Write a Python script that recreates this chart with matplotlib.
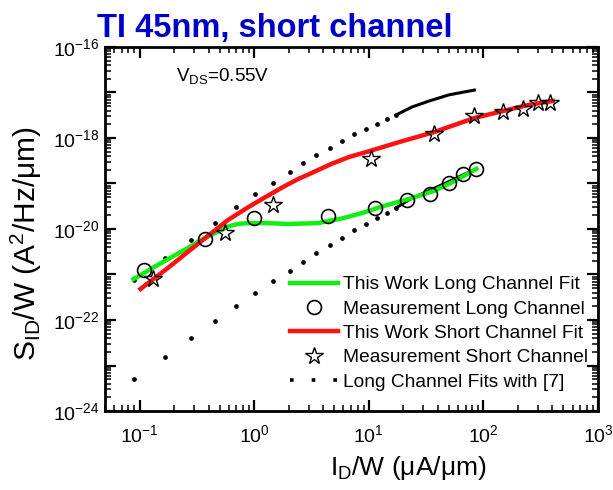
import numpy as np
import matplotlib
matplotlib.use('Agg')
import matplotlib.pyplot as plt
from matplotlib.ticker import LogLocator, FuncFormatter
from matplotlib.lines import Line2D

plt.rcParams['font.family'] = ['Liberation Sans', 'DejaVu Sans']
plt.rcParams['mathtext.fontset'] = 'custom'
plt.rcParams['mathtext.rm'] = 'Liberation Sans'
plt.rcParams['mathtext.it'] = 'Liberation Sans:italic'
plt.rcParams['mathtext.bf'] = 'Liberation Sans:bold'

# measured long channel (circles)
long_x = [0.11, 0.37, 1.0, 4.4, 11.3, 21.5, 34.3, 50.3, 66.8, 86.9]
long_y = [1.26e-21, 6.0e-21, 1.74e-20, 1.94e-20, 2.9e-20, 4.3e-20,
          5.9e-20, 1.02e-19, 1.6e-19, 2.1e-19]

# measured short channel (stars)
short_x = [0.13, 0.56, 1.47, 10.4, 37.2, 83.4, 147, 220, 298, 379]
short_y = [7.9e-22, 8.1e-21, 3.4e-20, 3.5e-19, 1.23e-18, 3.05e-18,
           3.7e-18, 4.3e-18, 5.9e-18, 5.9e-18]

# this work, long channel fit (green)
fit_long_x = [0.0886, 0.144, 0.238, 0.371, 0.535, 0.615, 0.724, 0.885, 1.25,
              1.99, 3.64, 6.04, 9.04, 13.5, 22.5, 37.2, 55.7, 86.9]
fit_long_y = [7.9e-22, 1.62e-21, 3.3e-21, 6.3e-21, 1.0e-20, 1.17e-20,
              1.29e-20, 1.35e-20, 1.35e-20, 1.29e-20, 1.35e-20, 1.74e-20,
              2.3e-20, 3.2e-20, 4.6e-20, 6.9e-20, 1.12e-19, 2.1e-19]

# this work, short channel fit (red)
fit_short_x = [0.102, 0.176, 0.323, 0.592, 0.885, 1.25, 1.79, 2.43, 3.30,
               4.73, 6.68, 10.0, 18.3, 37.2, 83.4, 147, 253, 403]
fit_short_y = [4.8e-22, 1.38e-21, 4.7e-21, 1.58e-20, 3.0e-20, 5.0e-20,
               8.4e-20, 1.26e-19, 1.78e-19, 2.7e-19, 3.8e-19, 5.1e-19,
               8.1e-19, 1.35e-18, 2.75e-18, 3.9e-18, 5.4e-18, 6.5e-18]

# long channel fits with [7]: dotted part (same currents for both curves)
ref_x = [0.0904, 0.166, 0.280, 0.455, 0.695, 1.02, 1.47, 2.07, 2.69, 3.50,
         4.55, 5.80, 7.39, 9.41, 11.8, 14.4, 17.3]
ref_upper_y = [7.6e-22, 2.3e-21, 5.7e-21, 1.35e-20, 3.0e-20, 5.9e-20,
               1.02e-19, 1.78e-19, 2.8e-19, 4.2e-19, 6.0e-19, 8.5e-19,
               1.23e-18, 1.58e-18, 2.0e-18, 2.6e-18, 3.2e-18]
ref_lower_y = [5.0e-24, 1.54e-23, 4.0e-23, 9.5e-23, 2.0e-22, 3.9e-22,
               7.2e-22, 1.2e-21, 1.88e-21, 2.97e-21, 4.5e-21, 6.3e-21,
               9.5e-21, 1.29e-20, 1.74e-20, 2.2e-20, 2.9e-20]
# solid tails where the dots merge
tail_upper_x = [17.3, 23.8, 33.6, 50.3, 83.4]
tail_upper_y = [3.2e-18, 4.8e-18, 6.5e-18, 8.9e-18, 1.13e-17]
tail_lower_x = [17.3, 22.5, 41.1, 86.9]
tail_lower_y = [2.9e-20, 4.4e-20, 8.8e-20, 2.1e-19]

legend_labels = ['This Work Long Channel Fit', 'Measurement Long Channel',
                 'This Work Short Channel Fit', 'Measurement Short Channel',
                 'Long Channel Fits with [7]']


def sci_label(v, pos, every=1):
    e = int(round(np.log10(v)))
    if e % every:
        return ''
    return r'$\mathregular{10^{%d}}$' % e


fig = plt.figure(figsize=(6.13, 4.9), dpi=100)
ax = fig.add_axes([105 / 613, 79 / 490, 493 / 613, 364 / 490])

# reference fits (black dots)
ax.plot(ref_x, ref_upper_y, 'o', color='k', ms=3.4, mew=0)
ax.plot(ref_x, ref_lower_y, 'o', color='k', ms=3.4, mew=0)
ax.plot(tail_upper_x, tail_upper_y, '-', color='k', lw=2.2)
ax.plot(tail_lower_x, tail_lower_y, '-', color='k', lw=2.2)

# this work
l_green, = ax.plot(fit_long_x, fit_long_y, '-', color='#11ee11', lw=3.2,
                   solid_joinstyle='round')
l_red, = ax.plot(fit_short_x, fit_short_y, '-', color='#ff1111', lw=3.2,
                 solid_joinstyle='round')

# measurements
m_circ, = ax.plot(long_x, long_y, 'o', mfc='none', mec='k', ms=10, mew=1.2)
m_star, = ax.plot(short_x, short_y, '*', mfc='none', mec='k', ms=13, mew=1.0)

dots = Line2D([], [], color='k', lw=2.6, ls=(0, (1, 5)))

ax.set_xscale('log')
ax.set_yscale('log')
ax.set_xlim(0.05, 1000)
ax.set_ylim(1e-24, 1e-16)

ax.xaxis.set_major_locator(LogLocator(base=10, numticks=20))
ax.xaxis.set_minor_locator(LogLocator(base=10, subs=np.arange(2, 10), numticks=100))
ax.yaxis.set_major_locator(LogLocator(base=10, numticks=20))
ax.yaxis.set_minor_locator(LogLocator(base=10, subs=np.arange(2, 10), numticks=100))
ax.xaxis.set_major_formatter(FuncFormatter(lambda v, p: sci_label(v, p, 1)))
ax.yaxis.set_major_formatter(FuncFormatter(lambda v, p: sci_label(v, p, 2)))

ax.tick_params(which='both', direction='in', top=True, right=True, labelsize=14)
ax.tick_params(which='major', length=8, width=1.6)
ax.tick_params(which='minor', length=4, width=1.1)
ax.tick_params(axis='x', pad=9.5)
ax.tick_params(axis='y', pad=4)
for s in ax.spines.values():
    s.set_linewidth(2)

ax.set_xlabel(r'$\mathregular{I_D}$/W (μA/μm)', fontsize=19)
ax.xaxis.set_label_coords(0.615, -0.118)
ax.set_ylabel(r'$\mathregular{S_{ID}}$/W (A$\mathregular{^2}$/Hz/μm)', fontsize=21.5)
ax.yaxis.set_label_coords(-0.124, 0.459)

ax.text(0.145, 0.92, r'V$\mathregular{_{DS}}$=0.55V', transform=ax.transAxes,
        fontsize=13.5, va='center', ha='left')

ax.legend([l_green, m_circ, l_red, m_star, dots], legend_labels,
          loc='upper left', bbox_to_anchor=(0.375, 0.371), frameon=False,
          fontsize=13.8, borderpad=0, borderaxespad=0, handlelength=2.5,
          handletextpad=0.25, labelspacing=0.36)

fig.text(97 / 613, 1 - 37 / 490, 'TI 45nm, short channel', color='#0000c8',
         fontsize=23.5, fontweight='bold', ha='left', va='baseline')

fig.savefig('out.png', dpi=100)
